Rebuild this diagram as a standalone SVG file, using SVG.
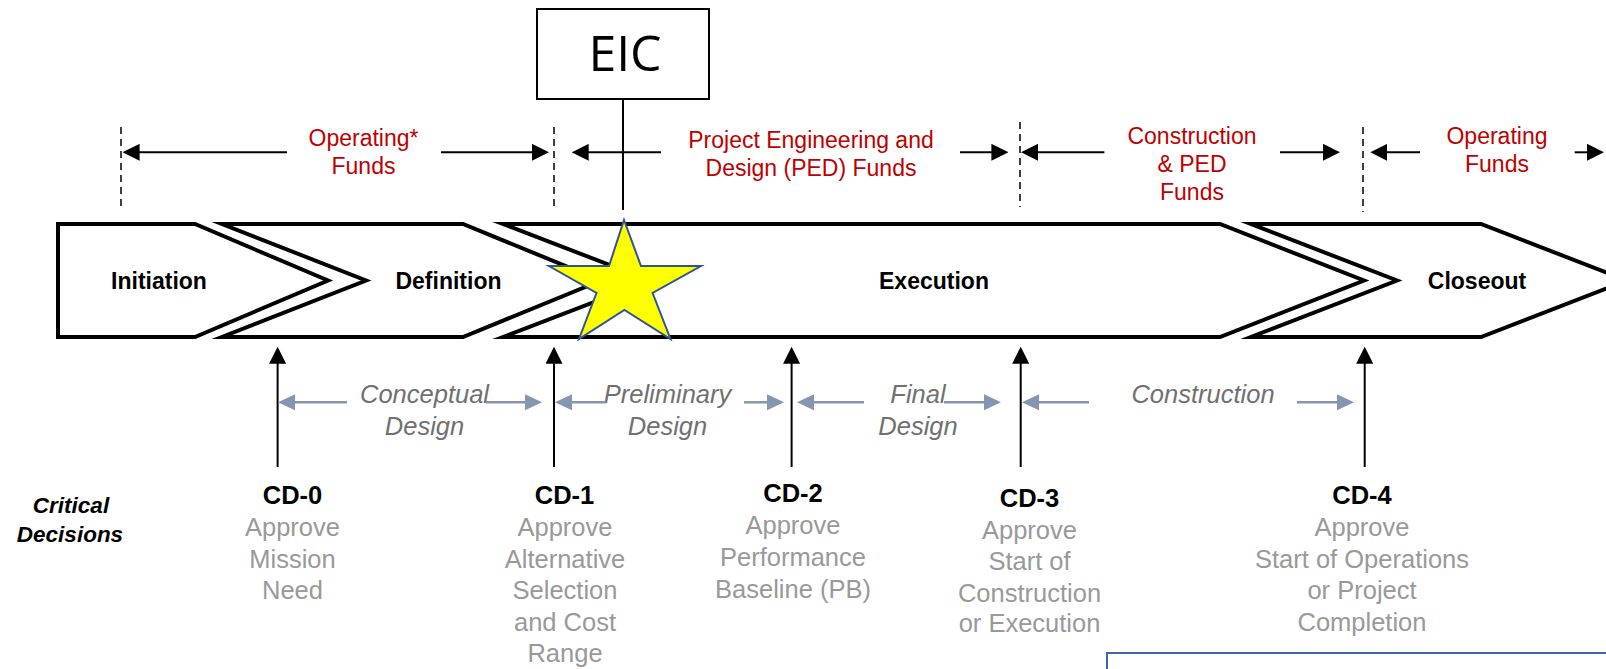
<svg xmlns="http://www.w3.org/2000/svg" width="1606" height="669" viewBox="0 0 1606 669">
<style>
  .phase { fill: #ffffff; stroke: #000000; stroke-width: 4; stroke-linejoin: miter; stroke-miterlimit: 10; }
  .plabel { font-family: "Liberation Sans", Arial, sans-serif; font-weight: bold; font-size: 23px; fill: #000000; text-anchor: middle; }
  .fund { font-family: "Liberation Sans", Arial, sans-serif; font-size: 23px; fill: #c00000; text-anchor: middle; }
  .stage { font-family: "Liberation Sans", Arial, sans-serif; font-style: italic; font-size: 25.5px; fill: #707070; text-anchor: middle; }
  .cd { font-family: "Liberation Sans", Arial, sans-serif; font-weight: bold; font-size: 25.5px; fill: #000000; text-anchor: middle; }
  .desc { font-family: "Liberation Sans", Arial, sans-serif; font-size: 25.5px; fill: #999999; text-anchor: middle; }
  .crit { font-family: "Liberation Sans", Arial, sans-serif; font-weight: bold; font-style: italic; font-size: 22.5px; fill: #000000; text-anchor: middle; }
  .dash { stroke: #000000; stroke-width: 1.5; stroke-dasharray: 7 5; fill: none; }
  .blk { stroke: #000000; stroke-width: 2; fill: none; marker-end: url(#ah); }
  .blu { stroke: #8497b0; stroke-width: 2.5; fill: none; marker-end: url(#ahb); }
</style>
<defs>
  <marker id="ah" viewBox="0 0 17 17" markerWidth="17" markerHeight="17" markerUnits="userSpaceOnUse" refX="2" refY="8.5" orient="auto">
    <path d="M0,0 L17,8.5 L0,17 Z" fill="#000000"/>
  </marker>
  <marker id="ahb" viewBox="0 0 17 16" markerWidth="17" markerHeight="16" markerUnits="userSpaceOnUse" refX="2" refY="8" orient="auto">
    <path d="M0,0 L17,8 L0,16 Z" fill="#8497b0"/>
  </marker>
</defs>
<rect width="1606" height="669" fill="#ffffff"/>

<!-- Phase chevrons -->
<g id="closeout">
  <path class="phase" d="M1251,224 H1481 L1627,280.5 L1481,337 H1251 L1397,280.5 Z"/>
  <text class="plabel" x="1477" y="288.5">Closeout</text>
</g>
<g id="execution">
  <path class="phase" d="M503,224 H1220 L1364,280.5 L1220,337 H503 L650,280.5 Z"/>
  <text class="plabel" x="934" y="288.5">Execution</text>
</g>
<g id="definition">
  <path class="phase" d="M222,224 H463 L601,280.5 L463,337 H222 L366,280.5 Z"/>
  <text class="plabel" x="448.5" y="288.5">Definition</text>
</g>
<g id="initiation">
  <path class="phase" d="M58,224 H195 L328,280.5 L195,337 H58 Z"/>
  <text class="plabel" x="159" y="288.5">Initiation</text>
</g>

<!-- EIC -->
<g id="eic">
  <rect x="537" y="9" width="172" height="90" fill="#ffffff" stroke="#000000" stroke-width="2"/>
  <text x="625" y="71" font-family="'Open Sans', 'Liberation Sans', sans-serif" font-size="50" fill="#000000" text-anchor="middle">EIC</text>
</g>

<!-- Star -->
<g id="star">
  <polygon points="624,220 641,266 701,266 652.6,293 670.5,339 624.4,310 579,339 596.5,293 549,266 609,266" fill="#ffff00" stroke="#2f5597" stroke-width="2" stroke-linejoin="miter"/>
</g>

<!-- Funding labels -->
<g id="fund-operating1">
  <text class="fund" x="363.5" y="145.5">Operating*</text>
  <text class="fund" x="363.5" y="174">Funds</text>
</g>
<g id="fund-ped">
  <text class="fund" x="811" y="147.5">Project Engineering and</text>
  <text class="fund" x="811" y="175.5">Design (PED) Funds</text>
</g>
<g id="fund-construction">
  <text class="fund" x="1192" y="144">Construction</text>
  <text class="fund" x="1192" y="172">&amp; PED</text>
  <text class="fund" x="1192" y="199.5">Funds</text>
</g>
<g id="fund-operating2">
  <text class="fund" x="1497" y="144">Operating</text>
  <text class="fund" x="1497" y="172">Funds</text>
</g>

<!-- Stage labels -->
<g id="stage-conceptual">
  <text class="stage" x="424.5" y="403">Conceptual</text>
  <text class="stage" x="424.5" y="434.5">Design</text>
</g>
<g id="stage-preliminary">
  <text class="stage" x="667.5" y="403">Preliminary</text>
  <text class="stage" x="667.5" y="434.5">Design</text>
</g>
<g id="stage-final">
  <text class="stage" x="918" y="403">Final</text>
  <text class="stage" x="918" y="434.5">Design</text>
</g>
<g id="stage-construction">
  <text class="stage" x="1203" y="403">Construction</text>
</g>

<!-- Critical decisions -->
<g id="critical-decisions">
  <text class="crit" x="71" y="512.5">Critical</text>
  <text class="crit" x="70" y="541.5">Decisions</text>
</g>
<g id="cd0">
  <text class="cd" x="292.5" y="504">CD-0</text>
  <text class="desc" x="292.5" y="536">Approve</text>
  <text class="desc" x="292.5" y="567.5">Mission</text>
  <text class="desc" x="292.5" y="599">Need</text>
</g>
<g id="cd1">
  <text class="cd" x="564.5" y="504">CD-1</text>
  <text class="desc" x="565" y="536">Approve</text>
  <text class="desc" x="565" y="567.5">Alternative</text>
  <text class="desc" x="565" y="599">Selection</text>
  <text class="desc" x="565" y="630.5">and Cost</text>
  <text class="desc" x="565" y="662">Range</text>
</g>
<g id="cd2">
  <text class="cd" x="793" y="501.5">CD-2</text>
  <text class="desc" x="793" y="534">Approve</text>
  <text class="desc" x="793" y="566">Performance</text>
  <text class="desc" x="793" y="598">Baseline (PB)</text>
</g>
<g id="cd3">
  <text class="cd" x="1029.5" y="506.5">CD-3</text>
  <text class="desc" x="1029.5" y="538.5">Approve</text>
  <text class="desc" x="1029.5" y="570">Start of</text>
  <text class="desc" x="1029.5" y="601.5">Construction</text>
  <text class="desc" x="1029.5" y="632">or Execution</text>
</g>
<g id="cd4">
  <text class="cd" x="1362" y="504">CD-4</text>
  <text class="desc" x="1362" y="536">Approve</text>
  <text class="desc" x="1362" y="567.5">Start of Operations</text>
  <text class="desc" x="1362" y="599">or Project</text>
  <text class="desc" x="1362" y="630.5">Completion</text>
</g>

<!-- Note box (partially visible) -->
<g id="note-box">
  <rect x="1107" y="653" width="520" height="60" fill="#ffffff" stroke="#4064b0" stroke-width="2"/>
</g>

<!-- Connectors -->
<g id="connectors">
  <line x1="623" y1="99" x2="623" y2="210" stroke="#000000" stroke-width="2"/>
  <line class="dash" x1="121" y1="127" x2="121" y2="211"/>
  <line class="dash" x1="554" y1="127" x2="554" y2="211"/>
  <line class="dash" x1="1020" y1="122" x2="1020" y2="207"/>
  <line class="dash" x1="1363" y1="127" x2="1363" y2="212"/>

  <line class="blk" x1="287" y1="152.3" x2="137.6" y2="152.3"/>
  <line class="blk" x1="441" y1="152.3" x2="534" y2="152.3"/>
  <line class="blk" x1="661" y1="152.3" x2="586.7" y2="152.3"/>
  <line class="blk" x1="960" y1="152.3" x2="993.4" y2="152.3"/>
  <line class="blk" x1="1104.4" y1="152.3" x2="1036" y2="152.3"/>
  <line class="blk" x1="1280" y1="152.3" x2="1325" y2="152.3"/>
  <line class="blk" x1="1420" y1="152.3" x2="1385.3" y2="152.3"/>
  <line class="blk" x1="1574.7" y1="152.3" x2="1589" y2="152.3"/>

  <line class="blk" x1="277.6" y1="467" x2="277.6" y2="361.7"/>
  <line class="blk" x1="554" y1="467" x2="554" y2="361.7"/>
  <line class="blk" x1="791.6" y1="467" x2="791.6" y2="361.7"/>
  <line class="blk" x1="1020.7" y1="467" x2="1020.7" y2="361.7"/>
  <line class="blk" x1="1364.7" y1="467" x2="1364.7" y2="361.7"/>

  <line class="blu" x1="347" y1="402.3" x2="293" y2="402.3"/>
  <line class="blu" x1="486" y1="402.3" x2="527" y2="402.3"/>
  <line class="blu" x1="606" y1="402.3" x2="570" y2="402.3"/>
  <line class="blu" x1="744" y1="402.3" x2="769" y2="402.3"/>
  <line class="blu" x1="864" y1="402.3" x2="812" y2="402.3"/>
  <line class="blu" x1="944" y1="402.3" x2="986" y2="402.3"/>
  <line class="blu" x1="1089" y1="402.3" x2="1037" y2="402.3"/>
  <line class="blu" x1="1297" y1="402.3" x2="1339" y2="402.3"/>
</g>
</svg>
